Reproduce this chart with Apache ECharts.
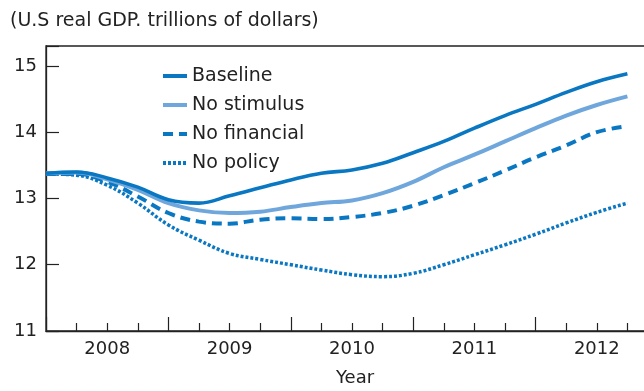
<!DOCTYPE html>
<html>
<head>
<meta charset="utf-8">
<script src="https://cdn.jsdelivr.net/npm/echarts@6/dist/echarts.min.js"></script>
<style>
html,body{margin:0;padding:0;background:#fff;}
#chart{width:644px;height:391px;}
</style>
</head>
<body>
<div id="chart"></div>
<script>
// Quarterly time points (fractional years)
var quarters = [2008, 2008.25, 2008.5, 2008.75, 2009, 2009.25, 2009.5, 2009.75,
  2010, 2010.25, 2010.5, 2010.75, 2011, 2011.25, 2011.5, 2011.75,
  2012, 2012.25, 2012.5, 2012.75];
var baseline    = [13.38, 13.40, 13.31, 13.17, 12.98, 12.93, 13.04, 13.16, 13.28, 13.38,
  13.43, 13.53, 13.69, 13.86, 14.06, 14.25, 14.42, 14.60, 14.76, 14.88];
var noStimulus  = [13.38, 13.39, 13.29, 13.13, 12.93, 12.82, 12.78, 12.80, 12.87, 12.93,
  12.97, 13.08, 13.25, 13.47, 13.66, 13.86, 14.06, 14.25, 14.41, 14.54];
var noFinancial = [13.37, 13.37, 13.25, 13.03, 12.78, 12.65, 12.62, 12.68, 12.70, 12.69,
  12.72, 12.78, 12.89, 13.05, 13.23, 13.42, 13.62, 13.80, 14.00, 14.09];
var noPolicy    = [13.37, 13.35, 13.20, 12.93, 12.60, 12.37, 12.17, 12.08, 12.00, 11.92,
  11.85, 11.82, 11.87, 12.00, 12.15, 12.30, 12.46, 12.63, 12.79, 12.93];
var yearLabels = [2008, 2009, 2010, 2011, 2012];
var yTicks = [11, 12, 13, 14, 15];
var seriesNames = ['Baseline', 'No stimulus', 'No financial', 'No policy'];

function pairs(vals) { return quarters.map(function (q, i) { return [q, vals[i]]; }); }

var dark = '#0a77c2';
var light = '#6fa7dc';
var txt = '#222222';
var font = 'DejaVu Sans';

var chart = echarts.init(document.getElementById('chart'), null, {renderer: 'canvas'});
chart.setOption({
  animation: false,
  backgroundColor: '#fff',
  textStyle: {fontFamily: font, color: txt},
  graphic: [
    {type: 'text', left: 10, top: 12, style: {text: '(U.S real GDP. trillions of dollars)', font: '19px "DejaVu Sans"', fill: txt}},
    {type: 'text', left: 336, top: 369, style: {text: 'Year', font: '18px "DejaVu Sans"', fill: txt}}
  ],
  grid: {left: 46, top: 46, width: 612, bottom: 60, show: true, borderColor: '#222', borderWidth: 1.3,
         backgroundColor: 'transparent', outerBoundsMode: 'none', containLabel: false},
  legend: {
    orient: 'vertical', left: 156, top: 61, itemWidth: 24, itemHeight: 14, itemGap: 9,
    data: seriesNames,
    itemStyle: {opacity: 0},
    lineStyle: {width: 4},
    textStyle: {fontFamily: font, fontSize: 19, color: txt, lineHeight: 20}
  },
  xAxis: {
    type: 'value', min: 2008, max: 2013, interval: 1,
    axisLine: {show: true, lineStyle: {color: '#222', width: 1.3}},
    axisTick: {show: true, inside: true, length: 14, lineStyle: {color: '#222', width: 1.2}},
    minorTick: {show: true, splitNumber: 4, length: 8, lineStyle: {color: '#222', width: 1.2}},
    splitLine: {show: false},
    minorSplitLine: {show: false},
    axisLabel: {
      customValues: yearLabels.map(function (y) { return y + 0.5; }),
      formatter: function (v) { return String(Math.floor(v)); },
      fontFamily: font, fontSize: 18, color: txt, margin: 9
    }
  },
  yAxis: {
    type: 'value', min: 11, max: 15.3, interval: 1,
    axisLine: {show: true, lineStyle: {color: '#222', width: 1.3}},
    axisTick: {show: true, inside: true, length: 13, lineStyle: {color: '#222', width: 1.2}},
    splitLine: {show: false},
    axisLabel: {
      customValues: yTicks,
      formatter: function (v) { return String(v); },
      fontFamily: font, fontSize: 18, color: txt, margin: 9
    }
  },
  series: [
    {name: 'No policy', type: 'line', data: pairs(noPolicy), smooth: 0.4, symbol: 'none',
     itemStyle: {color: dark}, lineStyle: {color: dark, width: 3.5, type: [3, 2], cap: 'butt'}, z: 2},
    {name: 'No financial', type: 'line', data: pairs(noFinancial), smooth: 0.4, symbol: 'none',
     itemStyle: {color: dark}, lineStyle: {color: dark, width: 4, type: [10, 6], cap: 'butt'}, z: 3},
    {name: 'No stimulus', type: 'line', data: pairs(noStimulus), smooth: 0.4, symbol: 'none',
     itemStyle: {color: light}, lineStyle: {color: light, width: 4}, z: 4},
    {name: 'Baseline', type: 'line', data: pairs(baseline), smooth: 0.4, symbol: 'none',
     itemStyle: {color: dark}, lineStyle: {color: dark, width: 3.6}, z: 5}
  ]
});
</script>
</body>
</html>
